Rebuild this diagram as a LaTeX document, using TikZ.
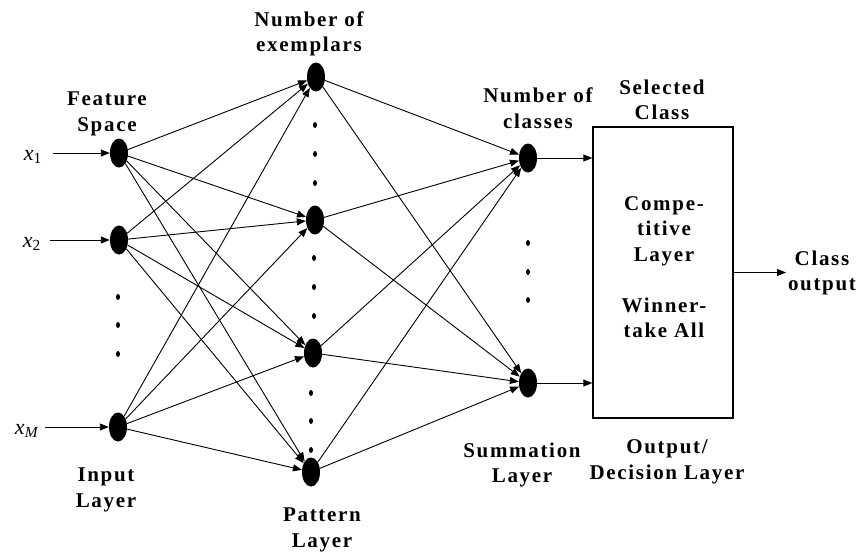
\documentclass[tikz,border=0pt]{standalone}
\usepackage{fontspec}
\setmainfont{Liberation Serif}
\newfontfamily\lblfont[LetterSpace=8]{Liberation Serif}
\usetikzlibrary{arrows.meta,shapes.geometric}

\begin{document}
\begin{tikzpicture}[x=1pt,y=-1pt,
  neuron/.style={ellipse, fill=black, minimum width=18pt, minimum height=29pt, inner sep=0pt},
  dotmark/.style={ellipse, fill=black, minimum width=4pt, minimum height=6pt, inner sep=0pt},
  lbl/.style={font=\lblfont\bfseries\fontsize{21}{25.5}\selectfont, align=center, inner sep=0pt},
  xlbl/.style={font=\fontsize{22}{24}\selectfont, inner sep=0pt, anchor=east},
  wire/.style={line width=0.9pt, -{Triangle[length=9pt,width=7pt]}},
  layerbox/.style={draw, line width=1.3pt, minimum width=140pt, minimum height=291pt, inner sep=0pt}]

  % canvas
  \fill[white] (0,0) rectangle (863,552);
  \useasboundingbox (0,0) rectangle (863,552);

  % input layer
  \node[neuron] (i1) at (119,153) {};
  \node[neuron] (i2) at (119,240) {};
  \node[neuron] (iM) at (118,427) {};

  % pattern layer
  \node[neuron] (p1) at (316,77) {};
  \node[neuron] (p2) at (315,220) {};
  \node[neuron] (p3) at (313,353) {};
  \node[neuron] (p4) at (311,472) {};

  % summation layer
  \node[neuron] (s1) at (528,158) {};
  \node[neuron] (s2) at (528,383) {};

  % competitive output layer
  \node[layerbox] (box) at (663,272.5) {};

  % ellipsis dots
  \foreach \y [count=\k] in {297,325,354} \node[dotmark] (di\k) at (118,\y) {};
  \foreach \y [count=\k] in {125,154,183} \node[dotmark] (da\k) at (315,\y) {};
  \foreach \y [count=\k] in {258,287,316} \node[dotmark] (db\k) at (314,\y) {};
  \foreach \y [count=\k] in {393,421,450} \node[dotmark] (dc\k) at (311,\y) {};
  \foreach \y [count=\k] in {243,272,300} \node[dotmark] (ds\k) at (528,\y) {};

  % input signals
  \node[xlbl] (lx1) at (42,157) {\textit{x}\textsubscript{1}};
  \node[xlbl] (lx2) at (41,244) {\textit{x}\textsubscript{2}};
  \node[xlbl] (lxM) at (39,431) {\textit{x}\textsubscript{\textit{M}}};
  \coordinate (u1) at (53,153);
  \coordinate (u2) at (50,240);
  \coordinate (uM) at (45,427);
  \draw[wire] (u1) -- (i1);
  \draw[wire] (u2) -- (i2);
  \draw[wire] (uM) -- (iM);

  % input -> pattern, fully connected
  \foreach \a in {i1,i2,iM}
    \foreach \b in {p1,p2,p3,p4}
      \draw[wire] (\a) -- (\b);

  % pattern -> summation, fully connected
  \foreach \a in {p1,p2,p3,p4}
    \foreach \b in {s1,s2}
      \draw[wire] (\a) -- (\b);

  % summation -> decision box
  \draw[wire] (s1) -- (s1 -| box.west);
  \draw[wire] (s2) -- (s2 -| box.west);

  % decision output
  \coordinate (out) at (786,272.5);
  \draw[wire] (box.east) -- (out);

  % captions
  \node[lbl] (ex) at (309,34) {Number of\\exemplars};
  \node[lbl] (fs) at (107,114) {Feature\\Space};
  \node[lbl] (nc) at (538,108) {Number of\\classes};
  \node[lbl] (sc) at (662,100) {Selected\\Class};
  \node[lbl] (sl) at (522,465) {Summation\\Layer};
  \node[lbl] (il) at (106,490) {Input\\Layer};
  \node[lbl] (pl) at (322,530) {Pattern\\Layer};
  \node[lbl] (od) at (667,462) {Output/\\Decision Layer};
  \node[lbl] (co) at (822,273) {Class\\output};
  \node[lbl] (ct) at (664,231) {Compe-\\titive\\Layer};
  \node[lbl] (wt) at (664,318) {Winner-\\take All};
\end{tikzpicture}
\end{document}
